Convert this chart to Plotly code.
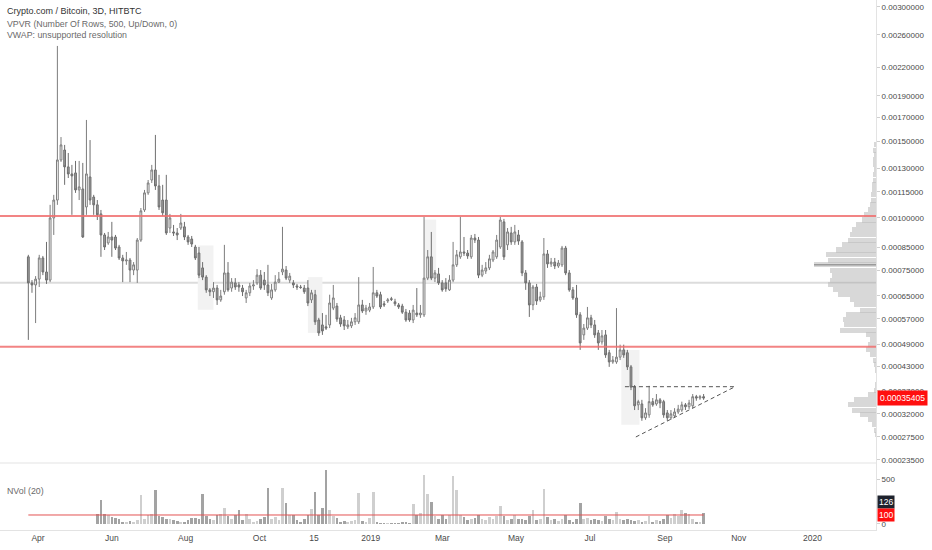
import numpy as np
import pandas as pd
import plotly.graph_objects as go

# ---------------- data ----------------
dates = pd.date_range("2018-03-24", periods=187, freq="3D")

open_ = [
0.000808,0.000699,0.000691,0.000714,0.000803,0.000743,0.000710,0.000999,0.001100,0.001361,
0.001434,0.001312,0.001264,0.001271,0.001161,0.001167,0.001060,0.001244,0.001118,0.001072,
0.001021,0.000911,0.000872,0.000901,0.000901,0.000853,0.000803,0.000790,0.000794,0.000751,
0.000751,0.000886,0.001043,0.001143,0.001224,0.001291,0.001186,0.001100,0.001100,0.000946,
0.000926,0.000921,0.000946,0.000952,0.000901,0.000891,0.000853,0.000825,0.000760,0.000722,
0.000672,0.000665,0.000679,0.000635,0.000665,0.000739,0.000679,0.000699,0.000691,0.000679,
0.000642,0.000661,0.000687,0.000699,0.000730,0.000710,0.000691,0.000642,0.000672,0.000702,
0.000743,0.000751,0.000710,0.000699,0.000687,0.000683,0.000679,0.000679,0.000635,0.000654,
0.000566,0.000550,0.000544,0.000550,0.000606,0.000613,0.000573,0.000566,0.000544,0.000547,
0.000560,0.000560,0.000617,0.000596,0.000599,0.000610,0.000661,0.000654,0.000621,0.000631,
0.000639,0.000628,0.000617,0.000613,0.000592,0.000589,0.000566,0.000589,0.000583,0.000583,
0.000718,0.000808,0.000718,0.000735,0.000699,0.000699,0.000672,0.000710,0.000773,0.000808,
0.000830,0.000825,0.000808,0.000896,0.000886,0.000730,0.000747,0.000760,0.000794,0.000808,
0.000853,0.000978,0.000863,0.000921,0.000877,0.000911,0.000877,0.000739,0.000699,0.000617,
0.000683,0.000635,0.000646,0.000821,0.000777,0.000785,0.000768,0.000773,0.000848,0.000739,
0.000672,0.000642,0.000583,0.000519,0.000540,0.000573,0.000550,0.000525,0.000498,0.000519,
0.000467,0.000442,0.000442,0.000455,0.000475,0.000467,0.000429,0.000379,0.000339,0.000341,
0.000312,0.000318,0.000346,0.000341,0.000350,0.000346,0.000322,0.000312,0.000316,0.000324,
0.000328,0.000339,0.000335,0.000337,0.000357,0.000354,0.000357]

high_ = [
0.000817,0.000710,0.000726,0.000817,0.000812,0.000877,0.001072,0.001131,0.002457,0.001535,
0.001473,0.001412,0.001326,0.001354,0.001354,0.001340,0.001678,0.001511,0.001131,0.001100,
0.001043,0.000921,0.000926,0.000978,0.000911,0.000863,0.000817,0.000830,0.000803,0.000785,
0.000896,0.001054,0.001161,0.001224,0.001326,0.001552,0.001258,0.001193,0.001258,0.001021,
0.000962,0.000946,0.001021,0.000978,0.000911,0.000906,0.000863,0.000853,0.000785,0.000730,
0.000679,0.000702,0.000691,0.000672,0.000863,0.000785,0.000718,0.000718,0.000702,0.000691,
0.000672,0.000699,0.000710,0.000755,0.000751,0.000743,0.000773,0.000695,0.000730,0.000743,
0.000952,0.000768,0.000739,0.000710,0.000695,0.000691,0.000691,0.000710,0.000672,0.000672,
0.000573,0.000589,0.000583,0.000654,0.000691,0.000624,0.000583,0.000579,0.000566,0.000573,
0.000589,0.000722,0.000635,0.000617,0.000624,0.000764,0.000672,0.000665,0.000631,0.000642,
0.000646,0.000639,0.000624,0.000621,0.000603,0.000599,0.000617,0.000679,0.000617,0.001005,
0.000839,0.000926,0.000751,0.000760,0.000710,0.000718,0.000730,0.000877,0.000839,0.001005,
0.000901,0.000839,0.000911,0.000916,0.000901,0.000773,0.000785,0.000817,0.000839,0.000911,
0.001005,0.000994,0.000946,0.000952,0.000962,0.000936,0.000886,0.000751,0.000710,0.000691,
0.000695,0.000665,0.000896,0.000839,0.000803,0.000803,0.000794,0.000858,0.000858,0.000751,
0.000683,0.000691,0.000592,0.000553,0.000610,0.000583,0.000566,0.000534,0.000534,0.000534,
0.000475,0.000458,0.000606,0.000490,0.000490,0.000475,0.000434,0.000384,0.000350,0.000350,
0.000332,0.000382,0.000354,0.000363,0.000354,0.000350,0.000328,0.000328,0.000332,0.000339,
0.000346,0.000343,0.000350,0.000363,0.000361,0.000361,0.000363]

low_ = [
0.000504,0.000661,0.000556,0.000683,0.000730,0.000695,0.000702,0.000911,0.001072,0.001347,
0.001193,0.001237,0.001016,0.001143,0.001100,0.000896,0.001016,0.001072,0.001016,0.000988,
0.000808,0.000839,0.000863,0.000808,0.000839,0.000794,0.000702,0.000773,0.000702,0.000730,
0.000699,0.000877,0.001032,0.001131,0.001205,0.001161,0.001043,0.001010,0.000911,0.000921,
0.000906,0.000886,0.000936,0.000886,0.000863,0.000853,0.000794,0.000718,0.000710,0.000661,
0.000649,0.000642,0.000617,0.000628,0.000654,0.000665,0.000665,0.000672,0.000665,0.000649,
0.000624,0.000649,0.000672,0.000691,0.000672,0.000672,0.000649,0.000635,0.000665,0.000699,
0.000730,0.000710,0.000699,0.000679,0.000672,0.000676,0.000657,0.000613,0.000624,0.000550,
0.000516,0.000519,0.000534,0.000540,0.000599,0.000560,0.000544,0.000534,0.000537,0.000540,
0.000550,0.000553,0.000589,0.000583,0.000592,0.000603,0.000642,0.000603,0.000610,0.000624,
0.000631,0.000613,0.000603,0.000586,0.000560,0.000560,0.000556,0.000576,0.000573,0.000576,
0.000710,0.000710,0.000702,0.000691,0.000665,0.000665,0.000668,0.000702,0.000764,0.000799,
0.000812,0.000799,0.000799,0.000872,0.000718,0.000722,0.000735,0.000751,0.000785,0.000799,
0.000844,0.000794,0.000839,0.000863,0.000863,0.000863,0.000726,0.000672,0.000576,0.000599,
0.000617,0.000628,0.000635,0.000760,0.000764,0.000755,0.000760,0.000764,0.000730,0.000665,
0.000635,0.000573,0.000475,0.000504,0.000534,0.000540,0.000510,0.000475,0.000490,0.000453,
0.000429,0.000437,0.000437,0.000447,0.000453,0.000421,0.000372,0.000328,0.000328,0.000306,
0.000308,0.000312,0.000335,0.000337,0.000332,0.000312,0.000306,0.000308,0.000312,0.000320,
0.000324,0.000328,0.000330,0.000332,0.000348,0.000350,0.000350]

close_ = [
0.000699,0.000691,0.000714,0.000803,0.000743,0.000710,0.000999,0.001100,0.001361,0.001473,
0.001312,0.001264,0.001251,0.001161,0.001180,0.000901,0.001264,0.001100,0.001072,0.001016,
0.000911,0.000853,0.000901,0.000886,0.000848,0.000803,0.000790,0.000794,0.000751,0.000773,
0.000886,0.001038,0.001143,0.001205,0.001291,0.001186,0.001060,0.001027,0.000921,0.000999,
0.000921,0.000911,0.000972,0.000901,0.000877,0.000867,0.000803,0.000730,0.000722,0.000672,
0.000665,0.000679,0.000635,0.000649,0.000739,0.000672,0.000702,0.000683,0.000683,0.000665,
0.000661,0.000687,0.000691,0.000730,0.000679,0.000691,0.000661,0.000672,0.000702,0.000714,
0.000755,0.000718,0.000726,0.000691,0.000683,0.000681,0.000665,0.000624,0.000661,0.000560,
0.000525,0.000531,0.000540,0.000624,0.000642,0.000569,0.000553,0.000547,0.000550,0.000560,
0.000573,0.000617,0.000596,0.000606,0.000610,0.000661,0.000649,0.000610,0.000617,0.000635,
0.000637,0.000621,0.000610,0.000592,0.000566,0.000566,0.000599,0.000583,0.000589,0.000718,
0.000808,0.000718,0.000739,0.000699,0.000672,0.000676,0.000710,0.000773,0.000817,0.000830,
0.000825,0.000812,0.000896,0.000886,0.000730,0.000751,0.000760,0.000799,0.000830,0.000886,
0.000988,0.000808,0.000926,0.000877,0.000926,0.000881,0.000739,0.000699,0.000617,0.000683,
0.000631,0.000646,0.000821,0.000777,0.000785,0.000768,0.000781,0.000848,0.000739,0.000672,
0.000642,0.000583,0.000495,0.000540,0.000573,0.000550,0.000519,0.000495,0.000516,0.000461,
0.000442,0.000447,0.000455,0.000475,0.000461,0.000429,0.000379,0.000337,0.000346,0.000312,
0.000322,0.000346,0.000339,0.000350,0.000343,0.000318,0.000312,0.000320,0.000324,0.000330,
0.000339,0.000335,0.000343,0.000357,0.000354,0.000357,0.00035405]

# Normalised volume NVol(20); first 19 bars have no value
nvol = [np.nan] * 19 + [
110,270,115,105,80,70,50,25,15,30,20,40,320,60,95,110,380,90,75,50,
60,45,30,15,20,40,70,65,60,330,90,60,45,95,110,180,85,60,95,150,
40,110,60,25,30,60,75,400,55,80,45,400,230,100,95,40,20,50,100,170,
360,100,180,600,160,90,65,20,30,15,30,40,340,30,20,70,350,15,10,5,
10,8,5,10,20,25,10,220,100,120,550,330,240,90,60,100,60,95,530,380,
105,80,45,60,70,100,60,45,80,60,90,200,90,40,60,100,50,60,40,90,
150,40,60,390,80,40,50,30,60,95,40,20,50,230,60,70,40,55,40,30,
90,60,45,130,60,40,50,45,30,40,25,35,90,25,40,30,55,100,70,110,
90,160,120,110,60,20,15,126]

nvol_avg_level = 100
nvol_last = 126

# Volume profile (visible range) rows: price level and relative volume
vp_price = [
0.001473,0.001434,0.001398,0.001361,0.001326,0.001291,0.001258,0.001224,0.001193,0.001161,
0.001131,0.001100,0.001072,0.001043,0.001016,0.000988,0.000962,0.000936,0.000911,0.000886,
0.000863,0.000839,0.000817,0.000794,0.000773,0.000751,0.000730,0.000710,0.000691,0.000672,
0.000654,0.000635,0.000617,0.000599,0.000583,0.000566,0.000550,0.000534,0.000519,0.000504,
0.000490,0.000475,0.000461,0.000447,0.000434,0.000421,
0.000384,0.000372,0.000361,0.000350,0.000339,0.000328,0.000318,0.000308,0.000298,0.000288,0.000279]
vp_vol = [
2,3,2,3,3,2,3,3,4,4,
5,5,6,8,12,14,20,24,26,28,
34,40,50,48,62,46,44,46,48,43,
38,26,22,16,30,33,32,36,10,6,
8,10,6,3,2,1,
1,2,8,22,28,24,16,8,4,2,1]

# Horizontal levels and drawings
red_levels = [0.00101, 0.000484]
grey_level = 0.0007
triangle_top = 0.00038
triangle_top_start = "2019-07-30"
triangle_end = "2019-10-29"
triangle_low_start = ("2019-08-08", 0.000275)
vp_boxes = [  # (start, end, low, high) shaded ranges
    ("2018-08-11", "2018-08-24", 0.000600, 0.000860),
    ("2018-11-10", "2018-11-22", 0.000525, 0.000722),
    ("2019-02-14", "2019-02-24", 0.000700, 0.000990),
    ("2019-07-27", "2019-08-11", 0.000298, 0.000475),
]
last_price = 0.00035405

price_ticks = [0.003, 0.0026, 0.0022, 0.0019, 0.0017, 0.0015, 0.0013, 0.00115, 0.001,
               0.00085, 0.00075, 0.00065, 0.00057, 0.00049, 0.00043, 0.00037, 0.00032,
               0.000275, 0.000235]
time_ticks = ["2018-04-01", "2018-06-01", "2018-08-01", "2018-10-01", "2018-11-15",
              "2019-01-01", "2019-03-01", "2019-05-01", "2019-07-01", "2019-09-01",
              "2019-11-01", "2020-01-01"]
time_labels = ["Apr", "Jun", "Aug", "Oct", "15", "2019", "Mar", "May", "Jul", "Sep", "Nov", "2020"]

# ---------------- price scale (TradingView log: log10(p + 1e-4)) ----------------
OFF = 1e-4
def tf(v):
    return np.log10(np.asarray(v, dtype=float) + OFF)

FONT = "Liberation Sans, Arial, sans-serif"
TXT = "#4a4a4a"

fig = go.Figure()

fig.add_trace(go.Candlestick(
    x=dates, open=tf(open_), high=tf(high_), low=tf(low_), close=tf(close_),
    increasing=dict(line=dict(color="#7d7d7d", width=1), fillcolor="#ffffff"),
    decreasing=dict(line=dict(color="#6e6e6e", width=1), fillcolor="#9c9c9c"),
    whiskerwidth=0, xaxis="x", yaxis="y", hoverinfo="skip"))

fig.add_trace(go.Bar(
    x=vp_vol, y=tf(vp_price), orientation="h", width=0.0107,
    marker=dict(color="rgba(190,190,190,0.6)", line=dict(width=0)),
    xaxis="x3", yaxis="y", hoverinfo="skip"))

# point of control: thin darker line on the largest row
poc_i = int(np.argmax(vp_vol))
fig.add_trace(go.Scatter(
    x=[vp_vol[poc_i], 0], y=[float(tf(vp_price[poc_i]))] * 2, mode="lines",
    line=dict(color="#9a9a9a", width=1.5), xaxis="x3", yaxis="y", hoverinfo="skip"))

vol_colors = ["#cfcfcf" if c >= o else "#a3a3a3" for o, c in zip(open_, close_)]
fig.add_trace(go.Bar(
    x=dates, y=nvol, width=2.2 * 86400000,
    marker=dict(color=vol_colors, line=dict(width=0)),
    xaxis="x", yaxis="y2", hoverinfo="skip"))

fig.add_trace(go.Scatter(
    x=[dates[0], dates[-1]], y=[nvol_avg_level, nvol_avg_level], mode="lines",
    line=dict(color="#e35353", width=1), xaxis="x", yaxis="y2", hoverinfo="skip"))

shapes = []
for s, e, lo, hi in vp_boxes:
    shapes.append(dict(type="rect", xref="x", yref="y", x0=s, x1=e, y0=float(tf(lo)), y1=float(tf(hi)),
                       fillcolor="#f2f2f2", line=dict(width=0), layer="below"))
for lv in red_levels:
    shapes.append(dict(type="line", xref="paper", yref="y", x0=0, x1=1, y0=float(tf(lv)), y1=float(tf(lv)),
                       line=dict(color="rgba(240,110,110,0.85)", width=2), layer="above"))
shapes.append(dict(type="line", xref="paper", yref="y", x0=0, x1=1, y0=float(tf(grey_level)),
                   y1=float(tf(grey_level)), line=dict(color="#dcdcdc", width=2), layer="below"))
shapes.append(dict(type="line", xref="x", yref="y", x0=triangle_top_start, x1=triangle_end,
                   y0=float(tf(triangle_top)), y1=float(tf(triangle_top)),
                   line=dict(color="#555555", width=1, dash="4px,3px")))
shapes.append(dict(type="line", xref="x", yref="y", x0=triangle_low_start[0], x1=triangle_end,
                   y0=float(tf(triangle_low_start[1])), y1=float(tf(triangle_top)),
                   line=dict(color="#555555", width=1, dash="4px,3px")))
# pane separator
shapes.append(dict(type="line", xref="paper", yref="paper", x0=0, x1=1, y0=0.1264, y1=0.1264,
                   line=dict(color="#e3e3e3", width=1)))

ann = []
def txt(text, y, size=8.5, color="#6a6a6a"):
    ann.append(dict(text=text, xref="paper", yref="paper", x=0.0057, y=y, xanchor="left",
                    yanchor="middle", showarrow=False, font=dict(family=FONT, size=size, color=color)))
txt("Crypto.com / Bitcoin, 3D, HITBTC", 0.9785, 9, "#333333")
txt("VPVR (Number Of Rows, 500, Up/Down, 0)", 0.9555, 8.8)
txt("VWAP: unsupported resolution", 0.934, 8.8)
txt("NVol (20)", 0.0736, 8.8)

ann.append(dict(text="0.00035405", xref="paper", yref="y", x=1, y=float(tf(last_price)), xanchor="left",
                yanchor="middle", xshift=1, showarrow=False, bgcolor="#ff0f0f", borderpad=2,
                font=dict(family=FONT, size=8.5, color="white")))
ann.append(dict(text="126", xref="paper", yref="y2", x=1, y=nvol_last, xanchor="left", yanchor="middle",
                xshift=1, yshift=11, showarrow=False, bgcolor="#1e222d", borderpad=1,
                font=dict(family=FONT, size=8.5, color="white")))
ann.append(dict(text="100", xref="paper", yref="y2", x=1, y=nvol_avg_level, xanchor="left",
                yanchor="middle", xshift=1, showarrow=False, bgcolor="#ff0f0f", borderpad=1,
                font=dict(family=FONT, size=8.5, color="white")))

fig.update_layout(
    width=932, height=550, margin=dict(l=0, r=56, t=0, b=20),
    paper_bgcolor="white", plot_bgcolor="white", showlegend=False, hovermode=False,
    bargap=0, shapes=shapes, annotations=ann,
    xaxis=dict(type="date", domain=[0, 1], anchor="y2", range=["2018-02-28 14:00", "2020-02-22 11:00"],
               tickvals=time_ticks, ticktext=time_labels, tickfont=dict(family=FONT, size=8.5, color=TXT),
               showgrid=False, zeroline=False, showline=True, linecolor="#e3e3e3",
               rangeslider=dict(visible=False), ticks="", automargin=False),
    xaxis3=dict(overlaying="x", anchor="y", domain=[0, 1], range=[876, 0], visible=False),
    yaxis=dict(domain=[0.1264, 1], anchor="x", side="right",
               range=[float(tf(0.00023)), float(tf(0.003104))],
               tickvals=list(tf(price_ticks)), ticktext=[f"{v:.8f}" for v in price_ticks],
               tickfont=dict(family=FONT, size=8, color=TXT), showgrid=False, zeroline=False,
               ticks="outside", ticklen=3, tickcolor="#cfcfcf", showline=True, linecolor="#e3e3e3",
               automargin=False),
    yaxis2=dict(domain=[0, 0.1264], anchor="x", side="right", range=[-67, 678],
                tickvals=[0, 500], ticktext=["0", "500"], tickfont=dict(family=FONT, size=8, color=TXT),
                showgrid=False, zeroline=False, ticks="outside", ticklen=3, tickcolor="#cfcfcf",
                showline=True, linecolor="#e3e3e3", automargin=False),
)

fig.write_html("out.html", config={"displayModeBar": False},
               post_script="document.body.style.margin='0';document.body.style.overflow='hidden';")
